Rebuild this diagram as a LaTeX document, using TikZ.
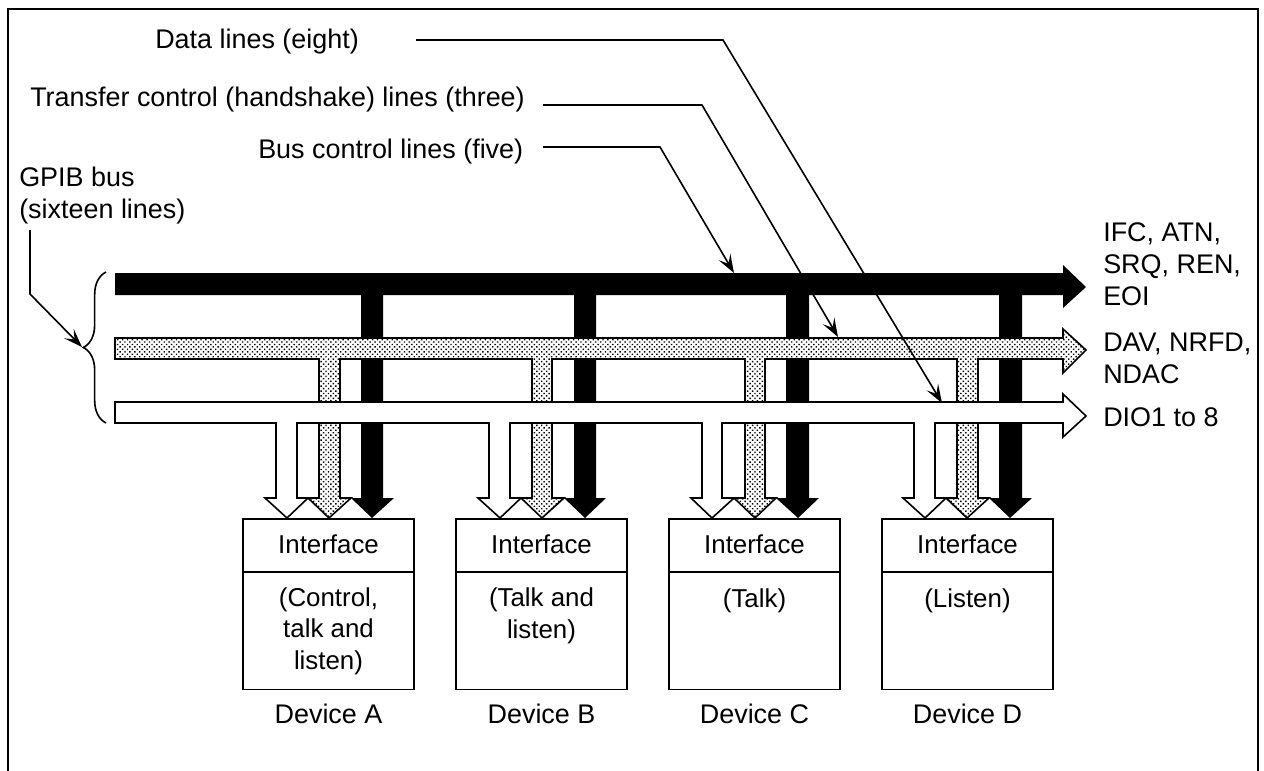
\documentclass[tikz,border=0pt]{standalone}
\usepackage{fontspec}
\setmainfont{Liberation Sans}
\usetikzlibrary{arrows.meta, patterns.meta, decorations.pathreplacing}

\begin{document}
\begin{tikzpicture}[x=0.75pt, y=-0.75pt,
    txt/.style={inner sep=0pt, font=\fontsize{20.2}{24}\selectfont},
    txtleft/.style={txt, anchor=base west, align=left},
    txtmid/.style={txt, anchor=base, align=center},
    txtbox/.style={txtmid, font=\fontsize{19.4}{23.5}\selectfont},
    blackbus/.style={fill=black},
    dotbus/.style={draw, line width=1.2pt, miter limit=3, preaction={fill=white}, pattern={Dots[distance=2.6pt, radius=0.75pt, angle=45]}},
    whitebus/.style={draw, line width=1.2pt, miter limit=3, fill=white},
    devbox/.style={draw, line width=1.4pt, fill=white, minimum width=128.25pt, inner sep=0pt},
    leader/.style={draw, line width=1.2pt, -{Stealth[length=14pt, width=10pt, inset=6pt]}}]
    \useasboundingbox (0,0) rectangle (1264,771);

    % Frame (open at the bottom)
    \draw[line width=1.4pt] (8,771) -- (8,9) -- (1258,9) -- (1258,771);

    % Draw buses
    \fill[blackbus] (115,273) -- (1063,273) -- (1063,265) -- (1086,287) -- (1063,308) -- (1063,295)
        -- (1022,295) -- (1022,498) -- (1032,498) -- (1010,518) -- (989,498) -- (999,498) -- (999,295)
        -- (809,295) -- (809,498) -- (819,498) -- (798,518) -- (776,498) -- (786,498) -- (786,295)
        -- (596,295) -- (596,498) -- (606,498) -- (585,518) -- (564,498) -- (574,498) -- (574,295)
        -- (383,295) -- (383,498) -- (394,498) -- (372,518) -- (351,498) -- (361,498) -- (361,295)
        -- (115,295) -- cycle;
    \path[dotbus] (115,338) -- (1063,338) -- (1063,329) -- (1086,350) -- (1063,373) -- (1063,359)
        -- (978,359) -- (978,498) -- (989,498) -- (967,518) -- (946,498) -- (957,498) -- (957,359)
        -- (765,359) -- (765,498) -- (776,498) -- (755,518) -- (734,498) -- (745,498) -- (745,359)
        -- (552,359) -- (552,498) -- (564,498) -- (542,518) -- (521,498) -- (532,498) -- (532,359)
        -- (340,359) -- (340,498) -- (351,498) -- (329,518) -- (308,498) -- (319,498) -- (319,359)
        -- (115,359) -- cycle;
    \path[whitebus] (115,402) -- (1063,402) -- (1063,394) -- (1086,416) -- (1063,437) -- (1063,423)
        -- (935,423) -- (935,498) -- (946,498) -- (925,518) -- (903,498) -- (914,498) -- (914,423)
        -- (722,423) -- (722,498) -- (734,498) -- (712,518) -- (691,498) -- (702,498) -- (702,423)
        -- (510,423) -- (510,498) -- (521,498) -- (500,518) -- (478,498) -- (489,498) -- (489,423)
        -- (297,423) -- (297,498) -- (308,498) -- (287,518) -- (265,498) -- (276,498) -- (276,423)
        -- (115,423) -- cycle;
    \draw[line width=1.2pt, decorate, decoration={brace, amplitude=17pt, aspect=0.5}] (106,423) -- (106,272);

    % Draw devices
    \node[devbox, minimum height=39.75pt] (ifA) at (328.5,545.5) {};
    \node[devbox, minimum height=39.75pt] (ifB) at (541.5,545.5) {};
    \node[devbox, minimum height=39.75pt] (ifC) at (754.5,545.5) {};
    \node[devbox, minimum height=39.75pt] (ifD) at (967.5,545.5) {};
    \node[devbox, minimum height=87.75pt] (bodyA) at (328.5,631) {};
    \node[devbox, minimum height=87.75pt] (bodyB) at (541.5,631) {};
    \node[devbox, minimum height=87.75pt] (bodyC) at (754.5,631) {};
    \node[devbox, minimum height=87.75pt] (bodyD) at (967.5,631) {};

    % Device texts
    \node[txtbox] (txtifA) at (328.5,553) {Interface};
    \node[txtbox] (txtifB) at (541.5,553) {Interface};
    \node[txtbox] (txtifC) at (754.5,553) {Interface};
    \node[txtbox] (txtifD) at (967.5,553) {Interface};
    \node[txtbox] (roleA) at (328.5,669) {(Control,\\talk and\\listen)};
    \node[txtbox] (roleB) at (541.5,638) {(Talk and\\listen)};
    \node[txtbox] (roleC) at (754.5,607) {(Talk)};
    \node[txtbox] (roleD) at (967.5,607) {(Listen)};
    \node[txtmid] (nameA) at (328.5,723) {Device A};
    \node[txtmid] (nameB) at (541.5,723) {Device B};
    \node[txtmid] (nameC) at (754.5,723) {Device C};
    \node[txtmid] (nameD) at (967.5,723) {Device D};

    % Labels
    \node[txtleft] (data) at (155,48) {Data lines (eight)};
    \node[txtleft] (transfer) at (30,106) {Transfer control (handshake) lines (three)};
    \node[txtleft] (buscontrol) at (258,158) {Bus control lines (five)};
    \node[txtleft] (gpib) at (19,218) {GPIB bus\\(sixteen lines)};
    \node[txtleft] (ctrlsig) at (1103,305) {IFC, ATN,\\SRQ, REN,\\EOI};
    \node[txtleft] (handsig) at (1103,383) {DAV, NRFD,\\NDAC};
    \node[txtleft] (diosig) at (1103,426) {DIO1 to 8};

    % Draw connections
    \coordinate (dataS) at (416,40);
    \coordinate (dataK) at (723,40);
    \coordinate (dataE) at (942,403);
    \coordinate (transferS) at (543,105);
    \coordinate (transferK) at (702,105);
    \coordinate (transferE) at (838,337);
    \coordinate (buscontrolS) at (543,147);
    \coordinate (buscontrolK) at (660,147);
    \coordinate (buscontrolE) at (734,273);
    \coordinate (gpibS) at (30,230);
    \coordinate (gpibK) at (30,294);
    \coordinate (gpibE) at (82,347);
    \draw[leader] (dataS) -- (dataK) -- (dataE);
    \draw[leader] (transferS) -- (transferK) -- (transferE);
    \draw[leader] (buscontrolS) -- (buscontrolK) -- (buscontrolE);
    \draw[leader] (gpibS) -- (gpibK) -- (gpibE);
\end{tikzpicture}
\end{document}
